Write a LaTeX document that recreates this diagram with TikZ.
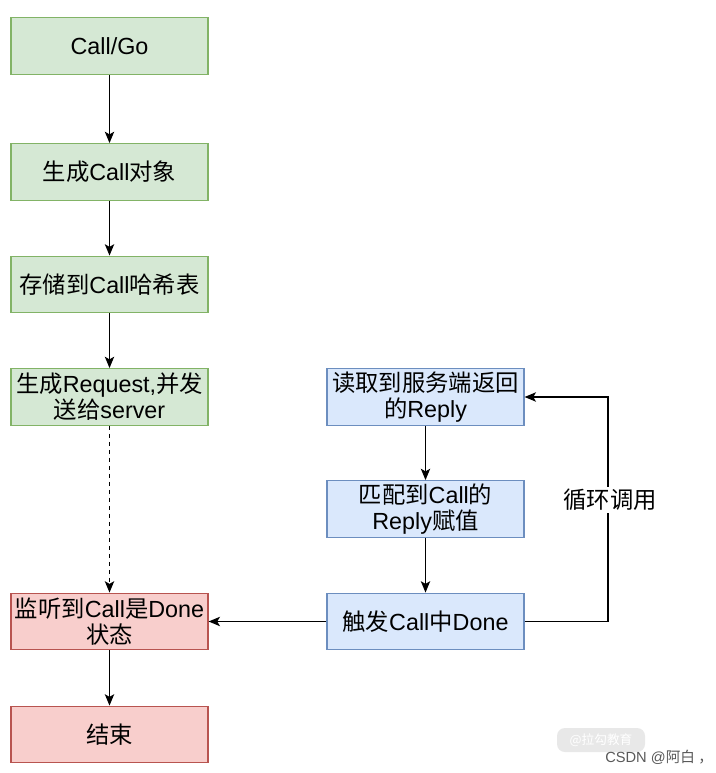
\documentclass[tikz,border=0pt]{standalone}
\usepackage{fontspec}
\setmainfont{Liberation Sans}
\newfontfamily\zhfont{Noto Sans CJK SC}
\newcommand{\zh}[1]{{\zhfont #1}}
\usetikzlibrary{arrows.meta}
\definecolor{gfill}{HTML}{D5E8D4}
\definecolor{gdraw}{HTML}{82B366}
\definecolor{rfill}{HTML}{F8CECC}
\definecolor{rdraw}{HTML}{B85450}
\definecolor{bfill}{HTML}{DAE8FC}
\definecolor{bdraw}{HTML}{6C8EBF}
\begin{document}
\begin{tikzpicture}[x=0.75pt,y=-0.75pt,
  box/.style={draw, line width=0.9pt, minimum width=147.75pt, minimum height=42.5pt,
    inner sep=0pt, align=center, font=\fontsize{17.5}{19.5}\selectfont},
  gbox/.style={box, fill=gfill, draw=gdraw},
  rbox/.style={box, fill=rfill, draw=rdraw},
  bbox/.style={box, fill=bfill, draw=bdraw},
  arr/.style={line width=1.05pt, -{Stealth[length=8.5pt,width=7pt,inset=2pt]}},
  lbl/.style={fill=white, inner sep=2pt, font=\fontsize{17.5}{19.5}\selectfont}
]
\useasboundingbox (0,0) rectangle (715,773);
\fill[white] (0,0) rectangle (715,773);

\node[gbox] (g1) at (109.5,46) {Call/Go};
\node[gbox] (g2) at (109.5,172) {\zh{生成}Call\zh{对象}};
\node[gbox] (g3) at (109.5,284.5) {\zh{存储到}Call\zh{哈希表}};
\node[gbox] (g4) at (109.5,397) {\zh{生成}Request,\zh{并发}\\\zh{送给}server};
\node[rbox] (r1) at (109.5,621.5) {\zh{监听到}Call\zh{是}Done\\\zh{状态}};
\node[rbox] (r2) at (109.5,734.5) {\zh{结束}};

\node[bbox] (b1) at (425.5,397) {\zh{读取到服务端返回}\\\zh{的}Reply};
\node[bbox] (b2) at (425.5,509) {\zh{匹配到}Call\zh{的}\\Reply\zh{赋值}};
\node[bbox] (b3) at (425.5,621.5) {\zh{触发}Call\zh{中}Done};

\draw[arr] (g1) -- (g2);
\draw[arr] (g2) -- (g3);
\draw[arr] (g3) -- (g4);
\draw[arr, dashed] (g4) -- (r1);
\draw[arr] (r1) -- (r2);
\draw[arr] (b1) -- (b2);
\draw[arr] (b2) -- (b3);
\draw[arr] (b3) -- (r1);
\coordinate (c1) at (608,621.5);
\coordinate (c2) at (608,397);
\draw[arr] (b3.east) -- (c1) -- (c2) -- (b1.east);
\node[lbl] (loop) at (610,500) {\zh{循环调用}};

\node[fill=black!9, text=white, rounded corners=6pt, inner sep=3pt, minimum width=66pt, minimum height=18pt,
  font=\fontsize{9.5}{11}\selectfont] (wm) at (601,740) {\zh{@拉勾教育}};
\node[text=black!65, font=\fontsize{11}{12}\selectfont, inner sep=0pt, anchor=base west] (csdn) at (605,762) {CSDN @\zh{阿白 ，}};
\end{tikzpicture}
\end{document}
